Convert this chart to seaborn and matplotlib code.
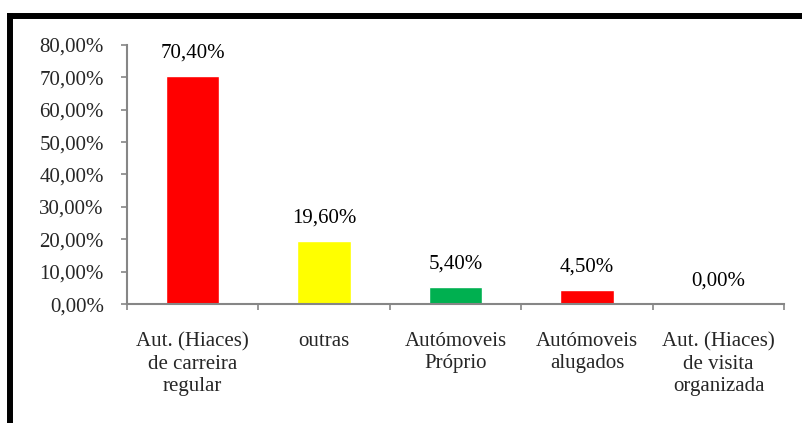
import matplotlib
matplotlib.use("Agg")
import matplotlib.pyplot as plt
from matplotlib.lines import Line2D
from matplotlib.ticker import FixedLocator
import seaborn as sns
import pandas as pd

# Chart data
categories = ["Aut. (Hiaces)\nde carreira\nregular", "outras", "Autómoveis\nPróprio",
              "Autómoveis\nalugados", "Aut. (Hiaces)\nde visita\norganizada"]
shares = [70.40, 19.60, 5.40, 4.50, 0.00]
bar_colors = ["#FF0000", "#FFFF00", "#00B050", "#FF0000", "#FF0000"]
y_ticks = [0, 10, 20, 30, 40, 50, 60, 70, 80]

df = pd.DataFrame({"Categoria": categories, "Percentagem": shares})

sns.set_style("white")
plt.rcParams["font.family"] = ["Liberation Serif", "DejaVu Serif"]

fig = plt.figure(figsize=(8.02, 4.23), dpi=100)
ax = fig.add_axes([0.158, 0.281, 0.820, 0.613])

sns.barplot(x="Categoria", y="Percentagem", data=df, hue="Categoria",
            palette=bar_colors, legend=False, width=0.41, saturation=1, ax=ax)

# Data labels
for i, v in enumerate(shares):
    ax.annotate(f"{v:.2f}%".replace(".", ","), (i, v), xytext=(0, 16.5),
                textcoords="offset points", ha="center", va="center",
                fontsize=15, color="black")

ax.set_xlim(-0.5, len(categories) - 0.5)
ax.set_ylim(0, 80)
ax.set_yticks(y_ticks)
ax.set_yticklabels([f"{t:.2f}%".replace(".", ",") for t in y_ticks])
ax.set_xlabel("")
ax.set_ylabel("")

# Axis look (Excel-like)
for s in ["top", "right"]:
    ax.spines[s].set_visible(False)
for s in ["left", "bottom"]:
    ax.spines[s].set_color("#868686")
    ax.spines[s].set_linewidth(1.5)
ax.tick_params(axis="y", direction="out", length=4.5, width=1.2, color="#868686",
               pad=12, labelsize=15, left=True)
ax.tick_params(axis="x", which="major", length=0, pad=20, labelsize=15)
ax.xaxis.set_minor_locator(FixedLocator([i - 0.5 for i in range(len(categories) + 1)]))
ax.tick_params(axis="x", which="minor", direction="out", length=4.5, width=1.2,
               color="#868686", bottom=True)
for lbl in ax.get_xticklabels():
    lbl.set_multialignment("center")
    lbl.set_linespacing(1.25)

# Thick frame at top and left edge of the picture
fig.add_artist(Line2D([10.3 / 802, 1.0], [1 - 16.3 / 423, 1 - 16.3 / 423],
                      color="black", linewidth=4.3, transform=fig.transFigure,
                      solid_capstyle="projecting"))
fig.add_artist(Line2D([10.3 / 802, 10.3 / 802], [0.0, 1 - 16.3 / 423],
                      color="black", linewidth=4.3, transform=fig.transFigure,
                      solid_capstyle="projecting"))

fig.savefig("out.png", dpi=100)
